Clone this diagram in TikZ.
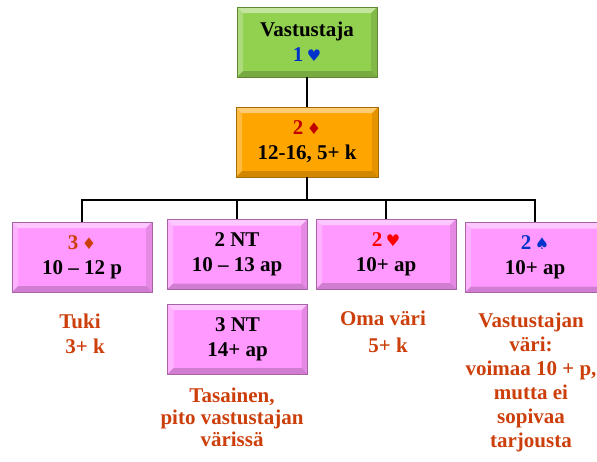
\documentclass[tikz,border=0pt]{standalone}
\usepackage{fontspec}
\setmainfont{Liberation Serif}
\newfontfamily\suitfont{DejaVu Sans}

% box and text colours
\definecolor{boxgreen}{RGB}{146,208,80}
\definecolor{boxorange}{RGB}{255,165,0}
\definecolor{boxpink}{RGB}{255,153,255}
\definecolor{notered}{RGB}{204,62,10}
\definecolor{bidblue}{RGB}{0,51,204}
\definecolor{bidred}{RGB}{192,0,0}

\newcommand{\suit}[1]{\,{\suitfont\fontsize{16}{16}\selectfont #1}}
\newcommand{\bidfont}{\fontsize{21}{25}\selectfont\bfseries}

\tikzset{
  bevel/.style={path picture={
    % light top and left, dark bottom and right
    \fill[white,opacity=0.45] (path picture bounding box.north west) -- (path picture bounding box.north east)
      -- ([xshift=-6pt,yshift=-6pt]path picture bounding box.north east) -- ([xshift=6pt,yshift=-6pt]path picture bounding box.north west) -- cycle;
    \fill[white,opacity=0.25] (path picture bounding box.north west) -- ([xshift=6pt,yshift=-6pt]path picture bounding box.north west)
      -- ([xshift=6pt,yshift=6pt]path picture bounding box.south west) -- (path picture bounding box.south west) -- cycle;
    \fill[black,opacity=0.18] (path picture bounding box.south west) -- (path picture bounding box.south east)
      -- ([xshift=-6pt,yshift=6pt]path picture bounding box.south east) -- ([xshift=6pt,yshift=6pt]path picture bounding box.south west) -- cycle;
    \fill[black,opacity=0.10] (path picture bounding box.north east) -- ([xshift=-6pt,yshift=-6pt]path picture bounding box.north east)
      -- ([xshift=-6pt,yshift=6pt]path picture bounding box.south east) -- (path picture bounding box.south east) -- cycle;
  }},
  bidbox/.style={draw=#1!65!black, fill=#1, bevel, minimum width=140pt, minimum height=70pt,
    inner sep=2pt, align=center, font=\bidfont},
  note/.style={anchor=north, inner sep=0pt, align=center, text=notered},
  conn/.style={line width=1.4pt, black}
}

\begin{document}
\begin{tikzpicture}[x=1pt,y=-1pt]
  \useasboundingbox (0,0) rectangle (597,461);

  % opener and response
  \node[bidbox=boxgreen] (resp) at (307,42) {Vastustaja\\\textcolor{bidblue}{1\suit{♥}}};
  \node[bidbox=boxorange, minimum width=142pt] (open) at (307,142) {\textcolor{bidred}{2\suit{♦}}\\12-16, 5+ k};

  % answers
  \node[bidbox=boxpink] (tri) at (82,257) {\textcolor{notered}{3\suit{♦}}\\10 – 12 p};
  \node[bidbox=boxpink] (nt2) at (237,254.5) {2 NT\\10 – 13 ap};
  \node[bidbox=boxpink] (hrt) at (386,254) {\textcolor{red}{2\suit{♥}}\\10+ ap};
  \node[bidbox=boxpink] (spd) at (535,257.5) {\textcolor{bidblue}{2\suit{♠}}\\10+ ap};
  \node[bidbox=boxpink] (nt3) at (237.5,339) {3 NT\\14+ ap};

  % explanations
  \node[note, font=\fontsize{21}{25}\selectfont\bfseries] (tukinote) at (80,314) {Tuki\\\hspace*{10pt}3+ k};
  \node[note, font=\fontsize{21}{27}\selectfont\bfseries] (omanote) at (383,311) {Oma väri\\\hspace*{10pt}5+ k};
  \node[note, font=\fontsize{21}{22}\selectfont\bfseries] (tasnote) at (232,388) {Tasainen,\\pito vastustajan\\värissä};
  \node[note, font=\fontsize{21}{24}\selectfont\bfseries] (vasnote) at (531,313)
    {Vastustajan\\väri:\\voimaa 10 + p,\\mutta ei\\sopivaa\\tarjousta};

  % connectors
  \coordinate (bus) at (307,200);
  \draw[conn] (resp) -- (open);
  \draw[conn] (open) -- (bus);
  \foreach \kid in {tri,nt2,hrt,spd}
    \draw[conn] (bus) -| (\kid.north);

\end{tikzpicture}
\end{document}
